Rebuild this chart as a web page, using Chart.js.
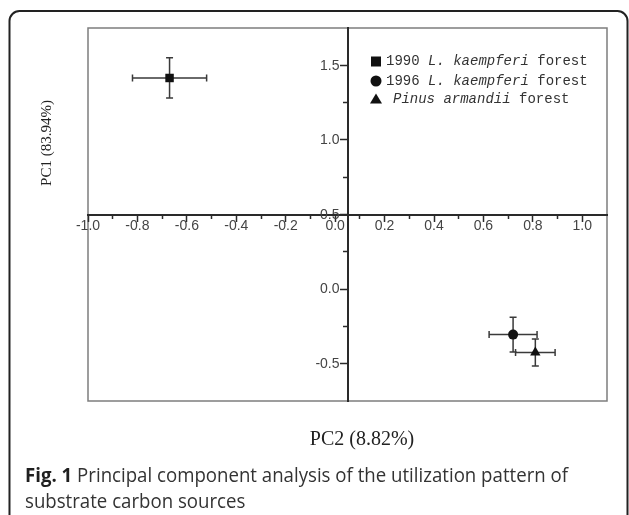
<!DOCTYPE html>
<html>
<head>
<meta charset="utf-8">
<script src="https://cdn.jsdelivr.net/npm/chart.js@4.4.1/dist/chart.umd.min.js"></script>
<style>
    html, body { margin: 0; padding: 0; background: #fff; }
    #wrap { position: relative; width: 629px; height: 515px; }
</style>
</head>
<body>
<div id="wrap"><canvas id="pcaChart" width="629" height="515"></canvas></div>
<script>
(function() {
    'use strict';

    // ===================================
    // Data
    // ===================================
    const groupNames = ['1990 L. kaempferi forest', '1996 L. kaempferi forest', 'Pinus armandii forest'];
    const pc2Values = [-0.67, 0.72, 0.81];      // x
    const pc1Values = [1.415, -0.305, -0.425];  // y
    const pc2Errors = [0.15, 0.097, 0.08];
    const pc1Errors = [0.135, 0.117, 0.09];
    const markerStyles = ['rect', 'circle', 'triangle'];
    const markerSizes = [6, 5, 6];

    const xTickLabels = ['-1.0', '-0.8', '-0.6', '-0.4', '-0.2', '0.0', '0.2', '0.4', '0.6', '0.8', '1.0'];
    const yTickLabels = ['-0.5', '0.0', '0.5', '1.0', '1.5'];
    const xRange = [-1.0, 1.1];
    const yRange = [-0.75, 1.75];
    const xAxisCrossAt = 0.5;   // PC1 value where the PC2 axis sits
    const yAxisCrossAt = 0.05;  // PC2 value where the PC1 axis sits

    const xTitle = 'PC2 (8.82%)';
    const yTitle = 'PC1 (83.94%)';
    const captionBold = 'Fig. 1';
    const captionLines = [' Principal component analysis of the utilization pattern of', 'substrate carbon sources'];

    const INK = '#2a2a2a';
    const LABEL = '#444';
    const TICK_FONT = '14px "Liberation Sans", Arial, sans-serif';
    const TRANSPARENT = 'rgba(0,0,0,0)';

    function onStep(v, step) {
        const r = v / step;
        return Math.abs(r - Math.round(r)) < 1e-6;
    }

    // ===================================
    // Plugins
    // ===================================

    // grey frame round the plot area
    const frameBox = {
        id: 'frameBox',
        beforeDraw(chart) {
            const { ctx, chartArea: a } = chart;
            ctx.save();
            ctx.strokeStyle = '#7d7d7d';
            ctx.lineWidth = 1.5;
            ctx.strokeRect(a.left, a.top, a.right - a.left, a.bottom - a.top);
            ctx.restore();
        }
    };

    // y tick labels sit left of the crossing axis, past the tick marks
    const yLabels = {
        id: 'yLabels',
        afterDraw(chart) {
            const { ctx, scales: { x, y } } = chart;
            const axisX = x.getPixelForValue(yAxisCrossAt);
            ctx.save();
            ctx.font = TICK_FONT;
            ctx.fillStyle = LABEL;
            ctx.textAlign = 'right';
            ctx.textBaseline = 'middle';
            yTickLabels.forEach(s => {
                ctx.fillText(s, axisX - 8, y.getPixelForValue(parseFloat(s)) + 0.5);
            });
            ctx.restore();
        }
    };

    // error bars from the data arrays
    const errorBars = {
        id: 'errorBars',
        beforeDatasetsDraw(chart) {
            const { ctx, scales: { x, y } } = chart;
            const cap = 3.5;
            ctx.save();
            ctx.strokeStyle = '#3a3a3a';
            ctx.lineWidth = 1.5;
            pc2Values.forEach((xv, i) => {
                const yv = pc1Values[i];
                const px = x.getPixelForValue(xv);
                const py = y.getPixelForValue(yv);
                const x0 = x.getPixelForValue(xv - pc2Errors[i]);
                const x1 = x.getPixelForValue(xv + pc2Errors[i]);
                const y0 = y.getPixelForValue(yv - pc1Errors[i]);
                const y1 = y.getPixelForValue(yv + pc1Errors[i]);
                ctx.beginPath();
                ctx.moveTo(x0, py); ctx.lineTo(x1, py);
                ctx.moveTo(x0, py - cap); ctx.lineTo(x0, py + cap);
                ctx.moveTo(x1, py - cap); ctx.lineTo(x1, py + cap);
                ctx.moveTo(px, y0); ctx.lineTo(px, y1);
                ctx.moveTo(px - cap, y0); ctx.lineTo(px + cap, y0);
                ctx.moveTo(px - cap, y1); ctx.lineTo(px + cap, y1);
                ctx.stroke();
            });
            ctx.restore();
        }
    };

    function drawMarker(ctx, style, cx, cy) {
        ctx.beginPath();
        if (style === 'rect') {
            ctx.rect(cx - 5, cy - 5, 10, 10);
        } else if (style === 'circle') {
            ctx.arc(cx, cy, 5.5, 0, Math.PI * 2);
        } else {
            ctx.moveTo(cx, cy - 5.5);
            ctx.lineTo(cx + 6, cy + 4.5);
            ctx.lineTo(cx - 6, cy + 4.5);
            ctx.closePath();
        }
        ctx.fill();
    }

    // draw a run of text pieces, some italic, left to right
    function drawPieces(ctx, pieces, x, y, size, family) {
        let cx = x;
        pieces.forEach(p => {
            ctx.font = (p.italic ? 'italic ' : '') + size + 'px ' + family;
            ctx.fillText(p.text, cx, y);
            cx += ctx.measureText(p.text).width;
        });
    }

    // legend, axis titles, caption and outer rounded frame
    const annotations = {
        id: 'annotations',
        afterDraw(chart) {
            const { ctx } = chart;
            ctx.save();

            // legend
            const legendRows = [
                { y: 61.5, x: 386, pieces: [{ text: '1990 ' }, { text: 'L. kaempferi', italic: true }, { text: ' forest' }] },
                { y: 81, x: 386, pieces: [{ text: '1996 ' }, { text: 'L. kaempferi', italic: true }, { text: ' forest' }] },
                { y: 99, x: 393, pieces: [{ text: 'Pinus armandii', italic: true }, { text: ' forest' }] }
            ];
            ctx.fillStyle = '#111';
            legendRows.forEach((row, i) => {
                drawMarker(ctx, markerStyles[i], 376, row.y);
            });
            ctx.fillStyle = '#333';
            ctx.textBaseline = 'middle';
            ctx.textAlign = 'left';
            legendRows.forEach(row => {
                drawPieces(ctx, row.pieces, row.x, row.y, 14, '"Liberation Mono"');
            });

            // axis titles
            ctx.fillStyle = '#222';
            ctx.font = '20px "Liberation Serif"';
            ctx.textAlign = 'center';
            ctx.fillText(xTitle, 362, 440);

            ctx.save();
            ctx.translate(47, 143);
            ctx.rotate(-Math.PI / 2);
            ctx.font = '15px "Liberation Serif"';
            ctx.fillText(yTitle, 0, 0);
            ctx.restore();

            // caption, squeezed to the width of the original
            ctx.textAlign = 'left';
            ctx.textBaseline = 'alphabetic';
            ctx.font = 'bold 20px "Open Sans"';
            const boldW = ctx.measureText(captionBold).width;
            ctx.font = '20px "Open Sans"';
            const restW = ctx.measureText(captionLines[0]).width;
            const squeeze = 543 / (boldW + restW);
            ctx.save();
            ctx.translate(25, 0);
            ctx.scale(squeeze, 1);
            ctx.fillStyle = '#1f1f1f';
            ctx.font = 'bold 20px "Open Sans"';
            ctx.fillText(captionBold, 0, 481.5);
            ctx.fillStyle = '#333';
            ctx.font = '20px "Open Sans"';
            ctx.fillText(captionLines[0], boldW, 481.5);
            ctx.fillText(captionLines[1], 0, 508);
            ctx.restore();

            // outer rounded frame (open at the bottom)
            ctx.strokeStyle = '#222';
            ctx.lineWidth = 2;
            ctx.beginPath();
            ctx.roundRect(9.5, 11, 618, 530, 10);
            ctx.stroke();

            ctx.restore();
        }
    };

    // ===================================
    // Chart
    // ===================================
    const datasets = groupNames.map((name, i) => ({
        label: name,
        data: [{ x: pc2Values[i], y: pc1Values[i] }],
        pointStyle: markerStyles[i],
        pointRadius: markerSizes[i],
        backgroundColor: '#111',
        borderColor: '#111',
        borderWidth: 0
    }));

    new Chart(document.getElementById('pcaChart'), {
        type: 'scatter',
        data: { datasets: datasets },
        options: {
            responsive: false,
            animation: false,
            layout: { padding: { left: 88, top: 28, right: 22, bottom: 114 } },
            plugins: {
                legend: { display: false },
                tooltip: { enabled: false }
            },
            scales: {
                x: {
                    type: 'linear',
                    min: xRange[0],
                    max: xRange[1],
                    position: { y: xAxisCrossAt },
                    border: { display: true, color: INK, width: 2 },
                    grid: {
                        drawOnChartArea: false,
                        drawTicks: true,
                        tickLength: 6,
                        tickWidth: 1.5,
                        tickColor: c => (c.tick && c.tick.value > 1.05 ? TRANSPARENT : INK),
                        tickBorderDash: c => (c.tick && onStep(c.tick.value, 0.2) ? [] : [3, 20])
                    },
                    ticks: {
                        stepSize: 0.1,
                        autoSkip: false,
                        maxRotation: 0,
                        padding: -3,
                        color: LABEL,
                        font: { family: '"Liberation Sans", Arial, sans-serif', size: 14 },
                        callback: v => {
                            const s = (Math.round(v * 10) / 10).toFixed(1);
                            return xTickLabels.includes(s) ? s : '';
                        }
                    }
                },
                y: {
                    type: 'linear',
                    min: yRange[0],
                    max: yRange[1],
                    position: { x: yAxisCrossAt },
                    border: { display: true, color: INK, width: 2 },
                    grid: {
                        drawOnChartArea: false,
                        drawTicks: true,
                        tickLength: 7,
                        tickWidth: 1.5,
                        tickColor: c => (c.tick && (c.tick.value < -0.7 || c.tick.value > 1.7) ? TRANSPARENT : INK),
                        tickBorderDash: c => (c.tick && onStep(c.tick.value, 0.5) ? [] : [4, 20])
                    },
                    ticks: {
                        stepSize: 0.25,
                        autoSkip: false,
                        display: false
                    }
                }
            }
        },
        plugins: [frameBox, errorBars, yLabels, annotations]
    });
})();
</script>
</body>
</html>
